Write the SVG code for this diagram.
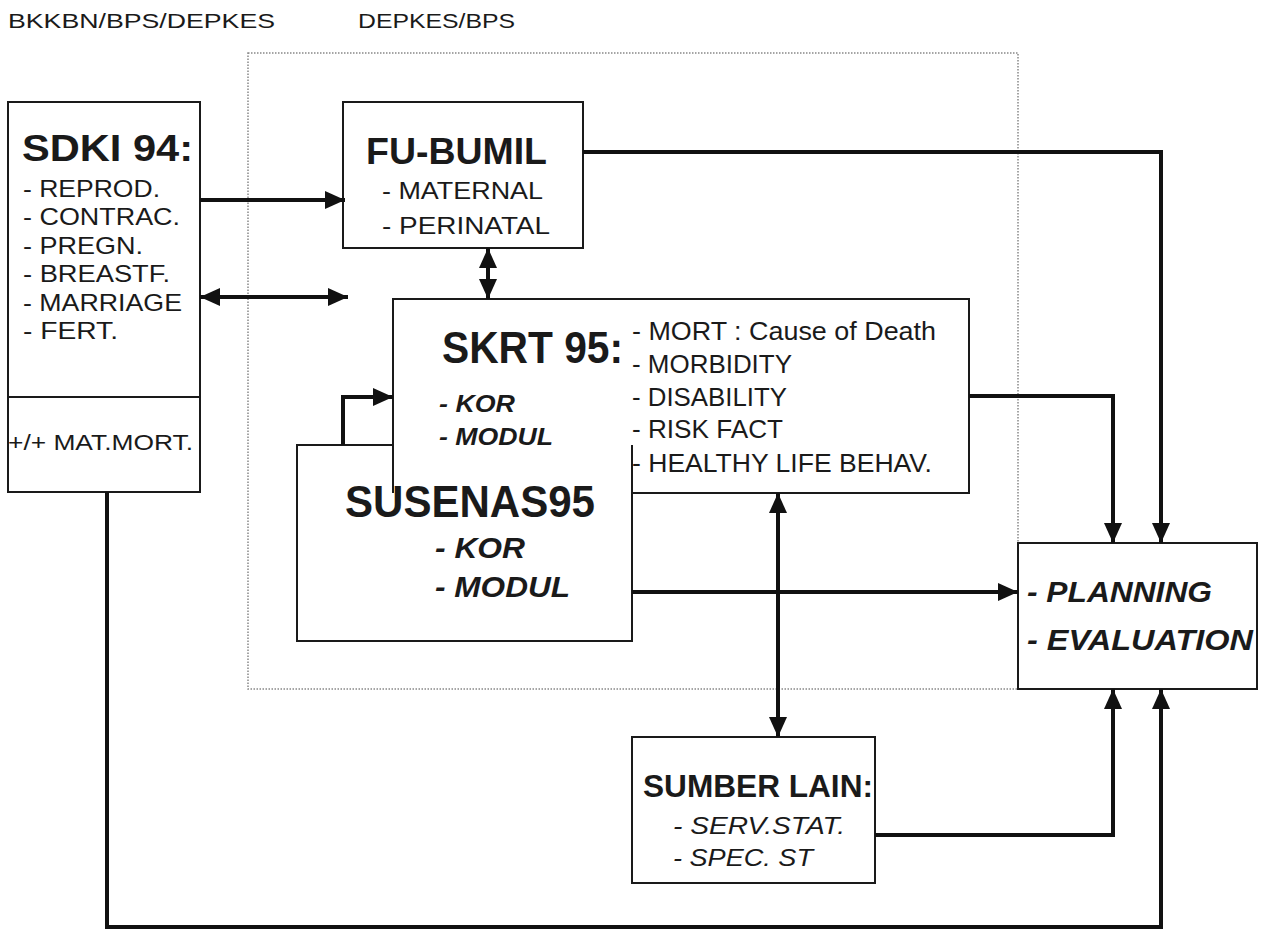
<svg xmlns="http://www.w3.org/2000/svg" width="1266" height="932" viewBox="0 0 1266 932">
<style>
text{font-family:"Liberation Sans",Arial,sans-serif;fill:#1a1a1a}
.b{font-weight:bold}
.i{font-style:italic}
.box{fill:none;stroke:#1a1a1a;stroke-width:2}
.c{fill:none;stroke:#111;stroke-width:4}
.dot{fill:none;stroke:#888;stroke-width:1.5;stroke-dasharray:1.5 1.5}
</style>
<defs>
<marker id="ah" viewBox="0 0 20 20" refX="20" refY="10" markerWidth="20" markerHeight="20" markerUnits="userSpaceOnUse" orient="auto-start-reverse">
<path d="M0,1 L20,10 L0,19 z" fill="#111"/>
</marker>
</defs>
<rect width="1266" height="932" fill="#fff"/>
<g id="labels">
<text x="8" y="28" font-size="21" textLength="267" lengthAdjust="spacingAndGlyphs">BKKBN/BPS/DEPKES</text>
<text x="358" y="28" font-size="21" textLength="157" lengthAdjust="spacingAndGlyphs">DEPKES/BPS</text>
</g>
<path id="region" class="dot" d="M248 53 H1018 V689 H248 Z"/>
<g id="sdki">
<rect class="box" x="8" y="102" width="192" height="390" fill="#fff"/>
<line class="box" x1="8" y1="397" x2="200" y2="397"/>
<text class="b" x="22" y="161" font-size="37" textLength="171" lengthAdjust="spacingAndGlyphs">SDKI 94:</text>
<text x="23" y="197" font-size="24" textLength="137" lengthAdjust="spacingAndGlyphs">- REPROD.</text>
<text x="23" y="225" font-size="24" textLength="157" lengthAdjust="spacingAndGlyphs">- CONTRAC.</text>
<text x="23" y="254" font-size="24" textLength="120" lengthAdjust="spacingAndGlyphs">- PREGN.</text>
<text x="23" y="282" font-size="24" textLength="147" lengthAdjust="spacingAndGlyphs">- BREASTF.</text>
<text x="23" y="311" font-size="24" textLength="159" lengthAdjust="spacingAndGlyphs">- MARRIAGE</text>
<text x="23" y="339" font-size="24" textLength="95" lengthAdjust="spacingAndGlyphs">- FERT.</text>
<text x="8" y="450" font-size="22" textLength="185" lengthAdjust="spacingAndGlyphs">+/+ MAT.MORT.</text>
</g>
<g id="fubumil">
<rect class="box" x="343" y="102" width="240" height="146"/>
<text class="b" x="366" y="164" font-size="37" textLength="181" lengthAdjust="spacingAndGlyphs">FU-BUMIL</text>
<text x="382" y="199" font-size="24" textLength="161" lengthAdjust="spacingAndGlyphs">- MATERNAL</text>
<text x="382" y="234" font-size="24" textLength="168" lengthAdjust="spacingAndGlyphs">- PERINATAL</text>
</g>
<g id="skrt">
<path class="box" d="M632 493 H969 V299 H393 V493"/>
<text class="b" x="442" y="363" font-size="45" textLength="181" lengthAdjust="spacingAndGlyphs">SKRT 95:</text>
<text class="b i" x="439" y="412" font-size="24" textLength="76" lengthAdjust="spacingAndGlyphs">- KOR</text>
<text class="b i" x="439" y="445" font-size="24" textLength="114" lengthAdjust="spacingAndGlyphs">- MODUL</text>
<text x="632" y="340" font-size="26" textLength="304" lengthAdjust="spacingAndGlyphs">- MORT : Cause of Death</text>
<text x="632" y="373" font-size="26" textLength="160" lengthAdjust="spacingAndGlyphs">- MORBIDITY</text>
<text x="632" y="406" font-size="26" textLength="155" lengthAdjust="spacingAndGlyphs">- DISABILITY</text>
<text x="632" y="438" font-size="26" textLength="151" lengthAdjust="spacingAndGlyphs">- RISK FACT</text>
<text x="632" y="472" font-size="26" textLength="300" lengthAdjust="spacingAndGlyphs">- HEALTHY LIFE BEHAV.</text>
</g>
<g id="susenas">
<path class="box" d="M393 445 H297 V641 H632 V445"/>
<text class="b" x="345" y="517" font-size="45" textLength="250" lengthAdjust="spacingAndGlyphs">SUSENAS95</text>
<text class="b i" x="435" y="558" font-size="29" textLength="90" lengthAdjust="spacingAndGlyphs">- KOR</text>
<text class="b i" x="435" y="597" font-size="29" textLength="135" lengthAdjust="spacingAndGlyphs">- MODUL</text>
</g>
<g id="planning">
<rect class="box" x="1018" y="543" width="239" height="146" fill="#fff"/>
<text class="b i" x="1027" y="602" font-size="30" textLength="185" lengthAdjust="spacingAndGlyphs">- PLANNING</text>
<text class="b i" x="1027" y="650" font-size="30" textLength="226" lengthAdjust="spacingAndGlyphs">- EVALUATION</text>
</g>
<g id="sumber">
<rect class="box" x="632" y="737" width="243" height="146"/>
<text class="b" x="643" y="797" font-size="31" textLength="230" lengthAdjust="spacingAndGlyphs">SUMBER LAIN:</text>
<text class="i" x="673" y="834" font-size="24" textLength="172" lengthAdjust="spacingAndGlyphs">- SERV.STAT.</text>
<text class="i" x="673" y="866" font-size="24" textLength="140" lengthAdjust="spacingAndGlyphs">- SPEC. ST</text>
</g>
<g id="connectors">
<path class="c" d="M200 200 H345" marker-end="url(#ah)"/>
<path class="c" d="M200 297 H348" marker-start="url(#ah)" marker-end="url(#ah)"/>
<path class="c" d="M488 248 V299" marker-start="url(#ah)" marker-end="url(#ah)"/>
<path class="c" d="M583 152 H1161 V543" marker-end="url(#ah)"/>
<path class="c" d="M969 396 H1113 V543" marker-end="url(#ah)"/>
<path class="c" d="M343 445 V397 H393" marker-end="url(#ah)"/>
<path class="c" d="M632 592 H1018" marker-end="url(#ah)"/>
<path class="c" d="M778 493 V737" marker-start="url(#ah)" marker-end="url(#ah)"/>
<path class="c" d="M875 835 H1113 V689" marker-end="url(#ah)"/>
<path class="c" d="M107 492 V927 H1161 V689" marker-end="url(#ah)"/>
</g>
</svg>
